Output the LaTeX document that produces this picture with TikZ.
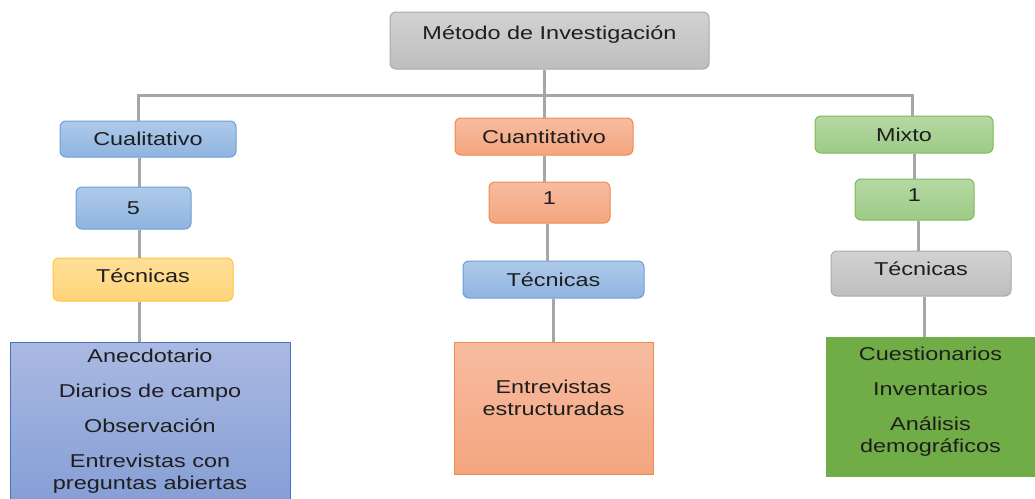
\documentclass[tikz,border=0pt]{standalone}
\usepackage{fontspec}
\setmainfont{Liberation Sans}[FakeStretch=1.26]
\definecolor{linegray}{HTML}{A6A6A6}
\definecolor{textdark}{HTML}{1E1E1E}
\definecolor{greytop}{HTML}{D2D2D2}
\definecolor{greybot}{HTML}{BEBEBE}
\definecolor{greyedge}{HTML}{AAAAAA}
\definecolor{bluetop}{HTML}{AECAEA}
\definecolor{bluebot}{HTML}{8FB4E0}
\definecolor{blueedge}{HTML}{6B9ED9}
\definecolor{orangetop}{HTML}{F7BCA0}
\definecolor{orangebot}{HTML}{F4A57F}
\definecolor{orangeedge}{HTML}{F08A4B}
\definecolor{greentop}{HTML}{B5D8A3}
\definecolor{greenbot}{HTML}{9DCB86}
\definecolor{greenedge}{HTML}{7DB95A}
\definecolor{yellowtop}{HTML}{FFDF99}
\definecolor{yellowbot}{HTML}{FFD47A}
\definecolor{yellowedge}{HTML}{FFC535}
\definecolor{listbluetop}{HTML}{AAB9E2}
\definecolor{listbluebot}{HTML}{869FD6}
\definecolor{listblueedge}{HTML}{4472C4}
\definecolor{listgreen}{HTML}{70AD47}
\usepackage{tikz}
\tikzstyle{block} = [
  rectangle, rounded corners=6pt, line width=1pt,
  inner sep=0pt, text=textdark,
  font=\fontsize{18.6}{22}\selectfont
]
\tikzstyle{greybox} = [block, draw=greyedge, top color=greytop, bottom color=greybot]
\tikzstyle{bluebox} = [block, draw=blueedge, top color=bluetop, bottom color=bluebot]
\tikzstyle{orangebox} = [block, draw=orangeedge, top color=orangetop, bottom color=orangebot]
\tikzstyle{greenbox} = [block, draw=greenedge, top color=greentop, bottom color=greenbot]
\tikzstyle{yellowbox} = [block, draw=yellowedge, top color=yellowtop, bottom color=yellowbot]
\tikzstyle{listbox} = [
  rectangle, line width=1pt, inner sep=0pt, align=center,
  text=textdark, font=\fontsize{18.6}{22}\selectfont
]
\tikzstyle{link} = [draw=linegray, line width=3pt]

\begin{document}
\begin{tikzpicture}[x=1pt, y=-1pt]
  \useasboundingbox (0,0) rectangle (1035,498);

  % ── Root ──────────────────────────────────────────────
  \node[greybox, minimum width=319pt, minimum height=57pt, text depth=15pt]
    (metodo) at (549.5,40.5) {Método de Investigación};

  % ── Cualitativo column ────────────────────────────────
  \node[bluebox, minimum width=176pt, minimum height=36pt]
    (cuali) at (148,139) {Cualitativo};
  \node[bluebox, minimum width=115pt, minimum height=42pt]
    (cualinum) at (133.5,208) {5};
  \node[yellowbox, minimum width=180pt, minimum height=43pt, text depth=8pt]
    (cualitec) at (143,279.5) {Técnicas};
  \node[listbox, draw=listblueedge, top color=listbluetop, bottom color=listbluebot,
        minimum width=280pt, minimum height=158pt]
    (cualilist) at (150,421)
    {Anecdotario\\[13pt] Diarios de campo\\[13pt] Observación\\[13pt]
     Entrevistas con\\ preguntas abiertas};

  % ── Cuantitativo column ───────────────────────────────
  \node[orangebox, minimum width=178pt, minimum height=37pt]
    (cuanti) at (544,136.5) {Cuantitativo};
  \node[orangebox, minimum width=121pt, minimum height=41pt, text depth=8pt]
    (cuantinum) at (549.5,202.5) {1};
  \node[bluebox, minimum width=181pt, minimum height=37pt]
    (cuantitec) at (553.5,279.5) {Técnicas};
  \node[listbox, draw=orangeedge, top color=orangetop, bottom color=orangebot,
        minimum width=199pt, minimum height=132pt, text depth=20pt]
    (cuantilist) at (553.5,408) {Entrevistas\\ estructuradas};

  % ── Mixto column ──────────────────────────────────────
  \node[greenbox, minimum width=178pt, minimum height=37pt]
    (mixto) at (904,134.5) {Mixto};
  \node[greenbox, minimum width=119pt, minimum height=41pt, text depth=8pt]
    (mixtonum) at (914.5,199.5) {1};
  \node[greybox, minimum width=180pt, minimum height=45pt, text depth=10pt]
    (mixtotec) at (921,273.5) {Técnicas};
  \node[listbox, fill=listgreen, minimum width=209pt, minimum height=140pt,
        text depth=14pt]
    (mixtolist) at (930.5,407)
    {Cuestionarios\\[13pt] Inventarios\\[13pt] Análisis\\ demográficos};

  % ── Connectors ────────────────────────────────────────
  \coordinate (busL) at (138,96);
  \coordinate (busR) at (912,95);
  \coordinate (colA) at (139,0);
  \coordinate (colB) at (544,0);
  \coordinate (colBb) at (547,0);
  \coordinate (colCb) at (918,0);
  \coordinate (colCc) at (924,0);

  \draw[link] (cuali.north -| busL) |- (busR) -- (mixto.north -| busR);
  \draw[link] (metodo.south -| colB) -- (cuanti.north -| colB);

  \draw[link] (cuali.south -| colA) -- (cualinum.north -| colA);
  \draw[link] (cualinum.south -| colA) -- (cualitec.north -| colA);
  \draw[link] (cualitec.south -| colA) -- (cualilist.north -| colA);

  \draw[link] (cuanti.south -| colB) -- (cuantinum.north -| colB);
  \draw[link] (cuantinum.south -| colBb) -- (cuantitec.north -| colBb);
  \draw[link] (cuantitec) -- (cuantilist);

  \draw[link] (mixto.south -| mixtonum) -- (mixtonum);
  \draw[link] (mixtonum.south -| colCb) -- (mixtotec.north -| colCb);
  \draw[link] (mixtotec.south -| colCc) -- (mixtolist.north -| colCc);

\end{tikzpicture}
\end{document}
